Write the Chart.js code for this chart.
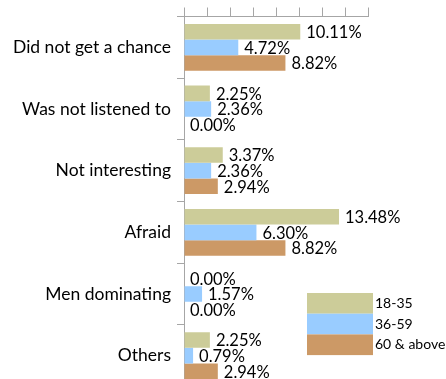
<!DOCTYPE html>
<html>
<head>
<meta charset="utf-8">
<script src="https://cdn.jsdelivr.net/npm/chart.js@4.4.1/dist/chart.umd.min.js"></script>
<style>
  html, body { margin: 0; padding: 0; background: #fff; overflow: hidden; }
  #wrap { position: absolute; left: 0; top: 0; width: 446px; height: 403px; }
</style>
</head>
<body>
<div id="wrap"><canvas id="c" width="446" height="403"></canvas></div>
<script>
// Reasons for not taking part, by age group (percent)
const categories = ["Did not get a chance", "Was not listened to", "Not interesting", "Afraid", "Men dominating", "Others"];
const seriesNames = ["18-35", "36-59", "60 & above"];
const age18to35 = [10.11, 2.25, 3.37, 13.48, 0.00, 2.25];
const age36to59 = [4.72, 2.36, 2.36, 6.30, 1.57, 0.79];
const age60plus = [8.82, 0.00, 2.94, 8.82, 0.00, 2.94];
const seriesColors = ["#CCCC99", "#99CCFF", "#CC9966"];

const AXIS = "#A6A6A6";
const FONT = "Lato";

// Value labels to the right of each bar
const valueLabels = {
  id: "valueLabels",
  afterDatasetsDraw(chart) {
    const ctx = chart.ctx;
    ctx.save();
    ctx.font = "16.5px " + FONT;
    ctx.fillStyle = "#000";
    ctx.textAlign = "left";
    ctx.textBaseline = "middle";
    chart.data.datasets.forEach((ds, i) => {
      chart.getDatasetMeta(i).data.forEach((bar, j) => {
        ctx.fillText(ds.data[j].toFixed(2) + "%", bar.x + 6, bar.y + 1);
      });
    });
    ctx.restore();
  }
};

// Stacked colour-block legend inside the plot area
const blockLegend = {
  id: "blockLegend",
  afterDraw(chart, args, opts) {
    const ctx = chart.ctx;
    ctx.save();
    ctx.font = "14px " + FONT;
    ctx.textBaseline = "middle";
    chart.data.datasets.forEach((ds, i) => {
      const y = opts.top + i * opts.rowH;
      ctx.fillStyle = ds.backgroundColor;
      ctx.fillRect(opts.left, y, opts.boxW, opts.rowH);
      ctx.fillStyle = "#000";
      ctx.fillText(ds.label, opts.left + opts.boxW + 2, y + opts.rowH / 2);
    });
    ctx.restore();
  }
};

new Chart(document.getElementById("c"), {
  type: "bar",
  data: {
    labels: categories,
    datasets: [
      { label: seriesNames[0], data: age18to35, backgroundColor: seriesColors[0] },
      { label: seriesNames[1], data: age36to59, backgroundColor: seriesColors[1] },
      { label: seriesNames[2], data: age60plus, backgroundColor: seriesColors[2] }
    ]
  },
  options: {
    indexAxis: "y",
    responsive: false,
    animation: false,
    events: [],
    categoryPercentage: 0.76,
    barPercentage: 1.0,
    layout: { padding: { left: 0, right: 78, top: 0, bottom: 1 } },
    scales: {
      x: {
        position: "top",
        min: 0,
        max: 16,
        ticks: { display: false, stepSize: 2 },
        grid: { drawOnChartArea: false, color: AXIS, tickLength: 9 },
        border: { display: true, color: AXIS },
        afterFit(scale) { scale.height = 15; }
      },
      y: {
        ticks: { color: "#000", font: { family: FONT, size: 17.5 }, padding: 6 },
        grid: { drawOnChartArea: false, color: AXIS, tickLength: 7, offset: true },
        border: { display: true, color: AXIS },
        afterFit(scale) { scale.width = 184; }
      }
    },
    plugins: {
      legend: { display: false },
      tooltip: { enabled: false },
      blockLegend: { left: 307, top: 293, boxW: 66, rowH: 20.7 }
    }
  },
  plugins: [valueLabels, blockLegend]
});
</script>
</body>
</html>
